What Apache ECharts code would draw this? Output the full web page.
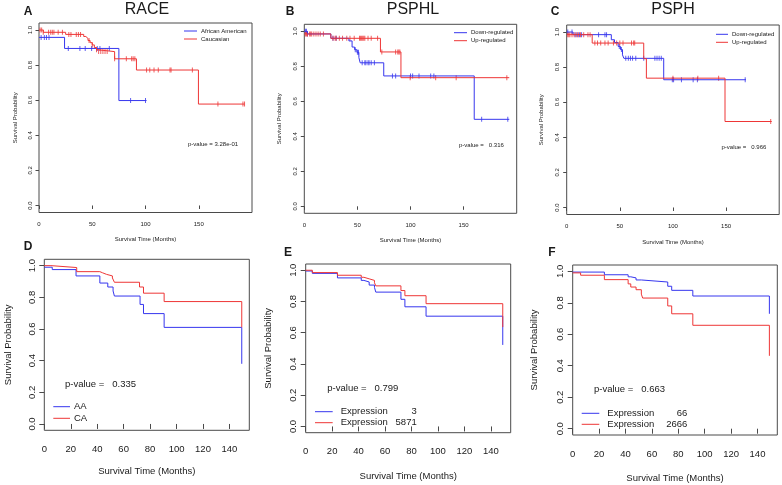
<!DOCTYPE html>
<html><head><meta charset="utf-8">
<script src="https://cdn.jsdelivr.net/npm/echarts@6/dist/echarts.min.js"></script>
<style>html,body{margin:0;padding:0;background:#fff}#c{width:782px;height:485px}</style>
</head><body><div id="c"></div>
<script>
// ---------- DATA ----------
const panelLetters = ['A','B','C','D','E','F'];
const panelTitles = ['RACE','PSPHL','PSPH','','',''];
const topXTicks = [0,50,100,150];
const bottomXTicks = [0,20,40,60,80,100,120,140];
const yTicks = [0,0.2,0.4,0.6,0.8,1.0];
const xTitle = 'Survival Time (Months)';
const yTitle = 'Survival Probability';

// Panel A: RACE  [time, survival]
const A_african = [[0,0.958],[24,0.895],[75,0.598],[101,0.598]];
const A_africanCens = [2,5,7,9.4,27.5,38.4,43.4,49.4,54.7,57.2,66,86,100];
const A_cauc = [[0,1.0],[4,0.987],[25,0.975],[42,0.963],[44,0.952],[46,0.94],[48,0.928],[50,0.915],[52,0.9],[54,0.888],[55,0.877],[71,0.836],[91.5,0.772],[149.7,0.578],[193,0.578]];
const A_caucCens = [1,2.5,4,9,11,12.5,14,18,22,28,30,35,37,39,47,50,54,56,58,60,62,64,71,82,87,88.4,90,101,104,108,112,123,124,144,168,191.5,193];
const A_legend = ['African American','Caucasian'];
const A_p = 'p-value = 3.28e-01';

// Panel B: PSPHL
const B_down = [[0,1.0],[3,0.985],[25,0.96],[42,0.945],[45,0.91],[47.4,0.895],[49.5,0.88],[51.4,0.85],[52.6,0.82],[74.8,0.745],[160,0.497],[193,0.497]];
const B_downCens = [1,2,3,27,30,48,50,51,54.5,57,58,60,61,63,66,83,86,100,102,108,119,122,167,191.6];
const B_up = [[0,0.985],[25,0.96],[71.7,0.882],[91,0.735],[193,0.735]];
const B_upCens = [1,2,3,5,6,7,9,11,13,15,18,27,29,30,33,36,40,43,47,52,53,54,55,56,57,60,63,69,73,86,88,89,90,99.7,123.7,143,190.7];
const B_legend = ['Down-regulated','Up-regulated'];
const B_p = 'p-value =   0.316';

// Panel C: PSPH
const C_down = [[0,1.0],[6,0.985],[42,0.956],[45,0.94],[48.4,0.918],[50.6,0.9],[52.5,0.87],[53.8,0.85],[91.3,0.728],[168.7,0.728]];
const C_downCens = [1,5,8,10,12,14,30,36,37.5,49.5,51.5,55.6,58,60,62,65,72.5,83,85,87,89,99.4,100.6,108,119,123,168];
const C_up = [[0,0.985],[24,0.937],[72.5,0.848],[75,0.737],[149,0.49],[193,0.49]];
const C_upCens = [1,2,3,5,7,9,11,13,16,20,22,26.5,29,32,36,39,44,47,50,53,61,63,64,100,123.4,143,192];
const C_legend = ['Down-regulated','Up-regulated'];
const C_p = 'p-value =   0.966';

// Panel D
const D_aa = [[0,0.99],[6,0.975],[24,0.935],[42,0.89],[48,0.865],[52,0.84],[53,0.808],[72.4,0.755],[75,0.697],[90.6,0.61],[149.3,0.38]];
const D_ca = [[0,1.0],[5,0.988],[24.5,0.962],[42,0.955],[44,0.945],[47,0.935],[51.5,0.922],[53,0.895],[72,0.865],[75,0.826],[90.6,0.773],[149.3,0.61]];
const D_legend = ['AA','CA'];
const D_legendNum = ['',''];
const D_p = 'p-value =   0.335';

// Panel E
const E_3 = [[0,0.995],[5,0.98],[24,0.951],[42,0.935],[44,0.925],[48,0.905],[52,0.89],[53,0.86],[72,0.814],[75,0.766],[91,0.706],[149,0.522]];
const E_5871 = [[0,1.0],[5,0.985],[24,0.968],[42,0.955],[44,0.945],[48,0.935],[52,0.92],[53,0.9],[72,0.87],[75,0.837],[91,0.786],[149,0.636]];
const E_legend = ['Expression','Expression'];
const E_legendNum = ['3','5871'];
const E_p = 'p-value =   0.799';

// Panel F
const F_66 = [[0,0.995],[24,0.978],[42,0.965],[44,0.958],[48,0.945],[52,0.935],[53,0.932],[72,0.905],[75,0.879],[91,0.843],[149,0.73]];
const F_2666 = [[0,0.99],[6,0.975],[24,0.947],[42,0.92],[44,0.9],[48,0.883],[52,0.855],[53,0.83],[72,0.78],[75,0.73],[91,0.657],[149,0.463]];
const F_legend = ['Expression','Expression'];
const F_legendNum = ['66','2666'];
const F_p = 'p-value =   0.663';

// ---------- STYLE / LAYOUT ----------
const BLUE = '#3636ee', RED = '#ee3636', INK = '#1a1a1a', BOX = '#4a4a4a';
const FONT = 'Liberation Sans, Arial, Helvetica, sans-serif';

const layout = [
  {left:39,   top:23,    width:213,   height:189.5, xMax:200, ticks:topXTicks,    small:true,  xGap:24, yGap:21},
  {left:304.3,top:24.3,  width:212.4, height:189,   xMax:200, ticks:topXTicks,    small:true,  xGap:24, yGap:22},
  {left:566.7,top:25,    width:212.5, height:189.5, xMax:200, ticks:topXTicks,    small:true,  xGap:25, yGap:22},
  {left:44.3, top:259.3, width:205,   height:171,   xMax:155, ticks:bottomXTicks, small:false, xGap:36, yGap:31},
  {left:305.7,top:264,   width:205,   height:168.7, xMax:155, ticks:bottomXTicks, small:false, xGap:39, yGap:32.5},
  {left:572.7,top:265,   width:204.6, height:170,   xMax:155, ticks:bottomXTicks, small:false, xGap:38, yGap:33.5}
];

function survAt(steps, t){ let v = steps[0][1]; for (const s of steps){ if (s[0] <= t) v = s[1]; } return v; }
function cens(steps, times){ return times.map(t => [t, survAt(steps, t)]); }

const grids = [], xAxes = [], yAxes = [], series = [], graphics = [];
layout.forEach((L, i) => {
  const fs = L.small ? 6 : 9.5;
  grids.push({left:L.left, top:L.top, width:L.width, height:L.height, show:true, borderColor:BOX, borderWidth:1, containLabel:false, outerBoundsMode:'none'});
  xAxes.push({gridIndex:i, type:'value', min:0, max:L.xMax,
    axisLine:{show:false}, splitLine:{show:false},
    axisTick:{show:true, length:L.small?3.5:5, customValues:L.ticks, lineStyle:{color:BOX}},
    axisLabel:{customValues:L.ticks, fontSize:fs, fontFamily:FONT, color:INK, margin:L.small?9:14},
    name:xTitle, nameLocation:'middle', nameGap:L.xGap, nameTextStyle:{fontSize:fs, fontFamily:FONT, color:INK}});
  yAxes.push({gridIndex:i, type:'value', min:-0.04, max:1.04,
    axisLine:{show:false}, splitLine:{show:false},
    axisTick:{show:true, length:L.small?3.5:5, customValues:yTicks, lineStyle:{color:BOX}},
    axisLabel:{customValues:yTicks, rotate:90, fontSize:fs, fontFamily:FONT, color:INK, margin:L.small?6:7, formatter:v=>v.toFixed(1)},
    name:yTitle, nameLocation:'middle', nameGap:L.yGap, nameTextStyle:{fontSize:fs, fontFamily:FONT, color:INK}});
});

function addLine(i, name, data, color){
  series.push({type:'line', name, xAxisIndex:i, yAxisIndex:i, data, step:'end', showSymbol:false, symbol:'none',
    lineStyle:{color, width:1}, itemStyle:{color}, animation:false, silent:true});
}
function addCens(i, name, data, color){
  series.push({type:'scatter', name, xAxisIndex:i, yAxisIndex:i, data, symbol:'rect', symbolSize:[1,5],
    itemStyle:{color}, animation:false, silent:true});
}

addLine(0, A_legend[0], A_african, BLUE); addCens(0, A_legend[0], cens(A_african, A_africanCens), BLUE);
addLine(0, A_legend[1], A_cauc, RED);     addCens(0, A_legend[1], cens(A_cauc, A_caucCens), RED);
addLine(1, B_legend[0], B_down, BLUE);    addCens(1, B_legend[0], cens(B_down, B_downCens), BLUE);
addLine(1, B_legend[1], B_up, RED);       addCens(1, B_legend[1], cens(B_up, B_upCens), RED);
addLine(2, C_legend[0], C_down, BLUE);    addCens(2, C_legend[0], cens(C_down, C_downCens), BLUE);
addLine(2, C_legend[1], C_up, RED);       addCens(2, C_legend[1], cens(C_up, C_upCens), RED);
addLine(3, D_legend[0], D_aa, BLUE);
addLine(3, D_legend[1], D_ca, RED);
addLine(4, 'Expression 3', E_3, BLUE);
addLine(4, 'Expression 5871', E_5871, RED);
addLine(5, 'Expression 66', F_66, BLUE);
addLine(5, 'Expression 2666', F_2666, RED);

function txt(x, y, text, size, opts){
  opts = opts || {};
  graphics.push({type:'text', x, y, silent:true, style:{text, fontSize:size, fontFamily:FONT,
    fontWeight:opts.bold?'bold':'normal', fill:INK, align:opts.align||'left', verticalAlign:'middle'}});
}
function seg(x1, x2, y, color){
  graphics.push({type:'line', silent:true, shape:{x1, y1:y, x2, y2:y}, style:{stroke:color, lineWidth:1}});
}

// panel letters and titles
const letterPos = [[28,12],[290,12],[555,12],[28,247],[288,253],[552,253]];
letterPos.forEach((p,i)=> txt(p[0], p[1], panelLetters[i], 12, {bold:true, align:'center'}));
const titlePos = [[147,10],[413,10],[673,10]];
titlePos.forEach((p,i)=> txt(p[0], p[1], panelTitles[i], 16, {align:'center'}));

// top legends
const topLeg = [{x1:184,x2:197,tx:201,y:[31,39],names:A_legend},
                {x1:454,x2:467,tx:471,y:[32.7,40.7],names:B_legend},
                {x1:716,x2:728,tx:732,y:[34.3,42.3],names:C_legend}];
topLeg.forEach(g=>{ [BLUE,RED].forEach((c,k)=>{ seg(g.x1,g.x2,g.y[k],c); txt(g.tx,g.y[k],g.names[k],6); }); });
txt(188,144,A_p,6); txt(459,145,B_p,6); txt(721.5,147,C_p,6);

// bottom legends
const botLeg = [{x1:53.3,x2:70,tx:74,nx:0,y:[406.7,418.3],names:D_legend,nums:D_legendNum},
                {x1:315,x2:332.7,tx:340.7,nx:416.7,y:[411.7,422.7],names:E_legend,nums:E_legendNum},
                {x1:581.7,x2:599.3,tx:607.3,nx:687.3,y:[413.3,424.3],names:F_legend,nums:F_legendNum}];
botLeg.forEach(g=>{ [BLUE,RED].forEach((c,k)=>{ seg(g.x1,g.x2,g.y[k],c); txt(g.tx,g.y[k],g.names[k],9.5);
  if (g.nums[k]) txt(g.nx,g.y[k],g.nums[k],9.5,{align:'right'}); }); });
txt(65,384,D_p,9.5); txt(327.3,388.3,E_p,9.5); txt(594,389.3,F_p,9.5);

const chart = echarts.init(document.getElementById('c'), null, {renderer:'canvas', width:782, height:485});
chart.setOption({animation:false, backgroundColor:'#fff', grid:grids, xAxis:xAxes, yAxis:yAxes, series, graphic:graphics});
</script></body></html>
